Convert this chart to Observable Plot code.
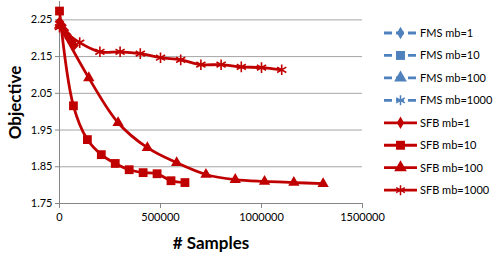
<!DOCTYPE html>
<html>
<head>
<meta charset="utf-8">
<script src="https://cdn.jsdelivr.net/npm/d3@7"></script>
<script src="https://cdn.jsdelivr.net/npm/@observablehq/plot@0.6"></script>
<style>
  html, body { margin: 0; padding: 0; background: #fff; }
  #wrap { position: relative; width: 498px; height: 256px; font-family: Lato, "Liberation Sans", sans-serif; }
  #wrap svg { font-family: Lato, "Liberation Sans", sans-serif; }
  g[aria-label="y-axis label"] text, g[aria-label="x-axis label"] text { font-size: 17px; font-weight: bold; fill: #000; }
  #legend { position: absolute; left: 0; top: 0; }
</style>
</head>
<body>
<div id="wrap"></div>
<script>
// ---- data ----
const seriesNames = ["FMS mb=1", "FMS mb=10", "FMS mb=100", "FMS mb=1000",
                     "SFB mb=1", "SFB mb=10", "SFB mb=100", "SFB mb=1000"];

const sfb1X = [0, 12000, 24000, 36000, 48000, 60000, 72000];
const sfb1Y = [2.245, 2.235, 2.222, 2.21, 2.2, 2.19, 2.18];

const sfb10X = [0, 69000, 138000, 207000, 276000, 345000, 414000, 483000, 552000, 621000];
const sfb10Y = [2.274, 2.016, 1.924, 1.883, 1.859, 1.842, 1.834, 1.831, 1.812, 1.807];

const sfb100X = [0, 145000, 290000, 435000, 580000, 725000, 870000, 1015000, 1160000, 1305000];
const sfb100Y = [2.235, 2.092, 1.970, 1.902, 1.861, 1.829, 1.815, 1.810, 1.807, 1.804];

const sfb1000X = [0, 100000, 200000, 300000, 400000, 500000, 600000, 700000, 800000, 900000, 1000000, 1100000];
const sfb1000Y = [2.23, 2.188, 2.163, 2.163, 2.158, 2.147, 2.141, 2.128, 2.128, 2.122, 2.120, 2.114];

const xTicks = [0, 500000, 1000000, 1500000];
const yTicks = [1.75, 1.85, 1.95, 2.05, 2.15, 2.25];

const red = "#C00000";
const blue = "#4F81BD";

const toRows = (xs, ys, s) => xs.map((x, i) => ({x, y: ys[i], s}));
const rows1 = toRows(sfb1X, sfb1Y, "SFB mb=1");
const rows10 = toRows(sfb10X, sfb10Y, "SFB mb=10");
const rows100 = toRows(sfb100X, sfb100Y, "SFB mb=100");
const rows1000 = toRows(sfb1000X, sfb1000Y, "SFB mb=1000");

const lineOpts = {x: "x", y: "y", stroke: red, strokeWidth: 2.8, curve: "catmull-rom"};

const chart = Plot.plot({
  width: 498,
  height: 256,
  marginLeft: 59,
  marginRight: 136,
  marginTop: 1,
  marginBottom: 53,
  style: {fontSize: "11px", color: "#000", background: "transparent"},
  x: {domain: [0, 1500000], ticks: xTicks, tickFormat: d3.format("d")},
  y: {domain: [1.75, 2.30], ticks: yTicks, tickFormat: d3.format(".2f")},
  marks: [
    Plot.gridY(yTicks, {stroke: "#a6a6a6", strokeOpacity: 1, strokeWidth: 1}),
    Plot.ruleX([0], {stroke: "#868686", strokeWidth: 1}),
    Plot.ruleY([1.75], {stroke: "#868686", strokeWidth: 1}),
    Plot.axisY({ticks: yTicks, tickFormat: d3.format(".2f"), tickSize: 4, tickPadding: 3, stroke: "#868686",
      label: "Objective", labelAnchor: "center", labelOffset: 51, labelArrow: "none"}),
    Plot.axisX({ticks: xTicks, tickFormat: d3.format("d"), tickSize: 5, tickPadding: 5, stroke: "#868686",
      label: "# Samples", labelAnchor: "center", labelOffset: 45, labelArrow: "none"}),
    Plot.line(rows1000, lineOpts),
    Plot.line(rows100, lineOpts),
    Plot.line(rows10, lineOpts),
    Plot.line(rows1, lineOpts),
    Plot.dot(rows1000, {x: "x", y: "y", symbol: "asterisk", r: 5, stroke: red, strokeWidth: 1.6}),
    Plot.dot(rows100, {x: "x", y: "y", symbol: "triangle2", r: 5.4, fill: red}),
    Plot.dot(rows10, {x: "x", y: "y", symbol: "square2", r: 5.6, fill: red}),
    Plot.dot(rows1, {x: "x", y: "y", symbol: "diamond2", r: 4.4, fill: red})
  ]
});
document.getElementById("wrap").appendChild(chart);

// ---- legend (right side) ----
const symbolsFor = ["diamond", "square", "triangle", "asterisk"];
const legend = d3.select("#wrap").append("svg")
  .attr("id", "legend").attr("width", 498).attr("height", 256)
  .style("pointer-events", "none");
seriesNames.forEach((name, i) => {
  const isFMS = name.startsWith("FMS");
  const col = isFMS ? blue : red;
  const cy = 33 + i * 22.45;
  const g = legend.append("g");
  g.append("line").attr("x1", 384).attr("x2", 417).attr("y1", cy).attr("y2", cy)
    .attr("stroke", col).attr("stroke-width", 2.8)
    .attr("stroke-dasharray", isFMS ? "8,4" : null);
  const kind = symbolsFor[i % 4];
  const sym = {diamond: d3.symbolDiamond, square: d3.symbolSquare, triangle: d3.symbolTriangle, asterisk: d3.symbolAsterisk}[kind];
  const size = {diamond: 45, square: 80, triangle: 70, asterisk: 70}[kind];
  const p = g.append("path").attr("d", d3.symbol(sym, size)()).attr("transform", `translate(400.5,${cy})`);
  if (kind === "asterisk") p.attr("fill", "none").attr("stroke", col).attr("stroke-width", 1.5);
  else p.attr("fill", col);
  g.append("text").attr("x", 420).attr("y", cy).attr("dy", "0.36em")
    .attr("font-size", 11).attr("fill", "#000").attr("font-family", "Lato, 'Liberation Sans', sans-serif")
    .text(name);
});
</script>
</body>
</html>
